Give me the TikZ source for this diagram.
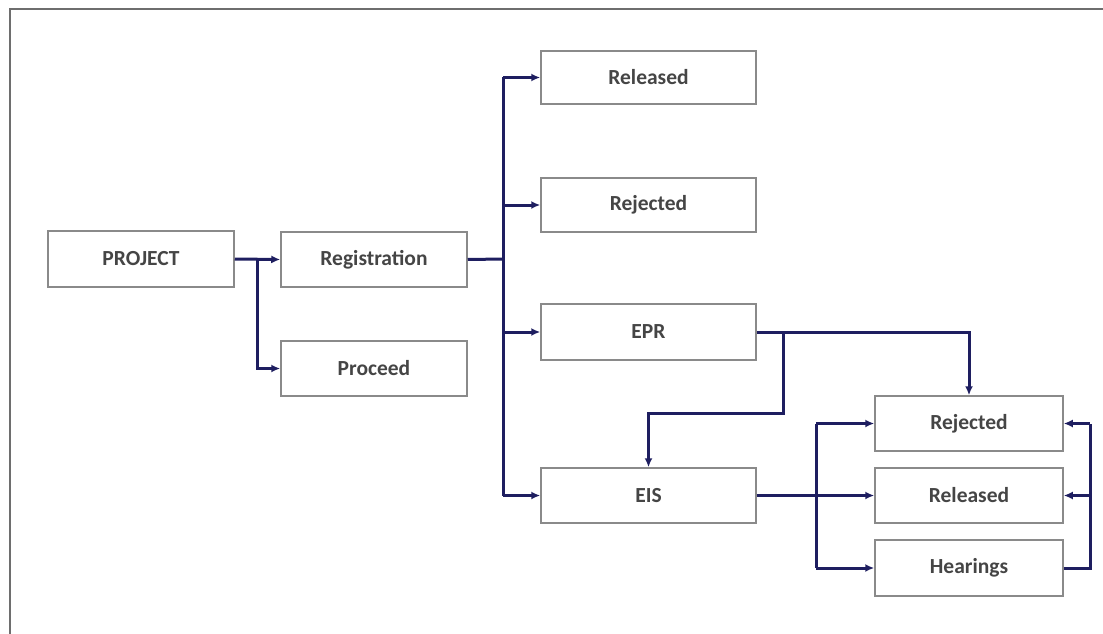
\documentclass[tikz,border=0pt]{standalone}
\usepackage{fontspec}
\setmainfont{Carlito}
\usetikzlibrary{arrows.meta}
\definecolor{navy}{HTML}{1E1E60}
\definecolor{boxgray}{HTML}{8A8A8A}
\definecolor{txtgray}{HTML}{454545}
\definecolor{framegray}{HTML}{6E6E6E}
\begin{document}
\begin{tikzpicture}[x=1pt,y=-1pt,
  stepbox/.style={draw=boxgray,line width=1.5pt,fill=white,inner sep=0pt,
    font=\bfseries\fontsize{21.5}{24}\selectfont,text=txtgray},
  conn/.style={draw=navy,line width=3pt},
  arr/.style={conn,-{Latex[length=9pt,width=8pt]}}]
\useasboundingbox (0,0) rectangle (1103,634);
\draw[framegray,line width=2pt] (10,640) -- (10,9) -- (1110,9);
% boxes
\newcommand{\bx}[6]{\node[stepbox,minimum width=#4-#2,minimum height=#5-#3] (#1) at ({(#2+#4)/2},{(#3+#5)/2}) {#6};}
\bx{proj}{48}{231}{234}{287}{PROJECT}
\bx{reg}{281}{232}{467}{287}{Registration}
\bx{proc}{281}{341}{467}{396}{Proceed}
\bx{rel1}{541}{51}{756}{104}{Released}
\bx{rej1}{541}{178}{756}{232}{Rejected}
\bx{epr}{541}{304}{756}{360}{EPR}
\bx{eis}{541}{468}{756}{523}{EIS}
\bx{rej2}{875}{396}{1063}{451}{Rejected}
\bx{rel2}{875}{468}{1063}{523}{Released}
\bx{hear}{875}{540}{1063}{596}{Hearings}
% coordinates
\coordinate (pj) at (257,259);
\coordinate (rj) at (503,259);
\coordinate (ej) at (783,332);
\coordinate (sj) at (816,495);
\coordinate (hj) at (1090,568);
% connectors
\draw[arr] (proj.east) -- (reg.west);
\draw[arr] (pj) |- (proc.west);
\draw[conn] (reg.east) -- (rj);
\draw[conn] (rj |- rel1.west) -- (rj |- eis.west);
\draw[arr] (rj |- rel1.west) -- (rel1.west);
\draw[arr] (rj |- rej1.west) -- (rej1.west);
\draw[arr] (rj |- epr.west) -- (epr.west);
\draw[arr] (rj |- eis.west) -- (eis.west);
\draw[arr] (epr.east) -| (rej2.north);
\draw[arr] (ej) -- (783,413) -| (eis.north);
\draw[arr] (eis.east) -- (rel2.west);
\draw[conn] (sj |- rej2.west) -- (sj |- hear.west);
\draw[arr] (sj |- rej2.west) -- (rej2.west);
\draw[arr] (sj |- hear.west) -- (hear.west);
\draw[conn] (hear.east) -- (hj) -- (hj |- rej2.east);
\draw[arr] (hj |- rej2.east) -- (rej2.east);
\draw[arr] (hj |- rel2.east) -- (rel2.east);
\end{tikzpicture}
\end{document}
